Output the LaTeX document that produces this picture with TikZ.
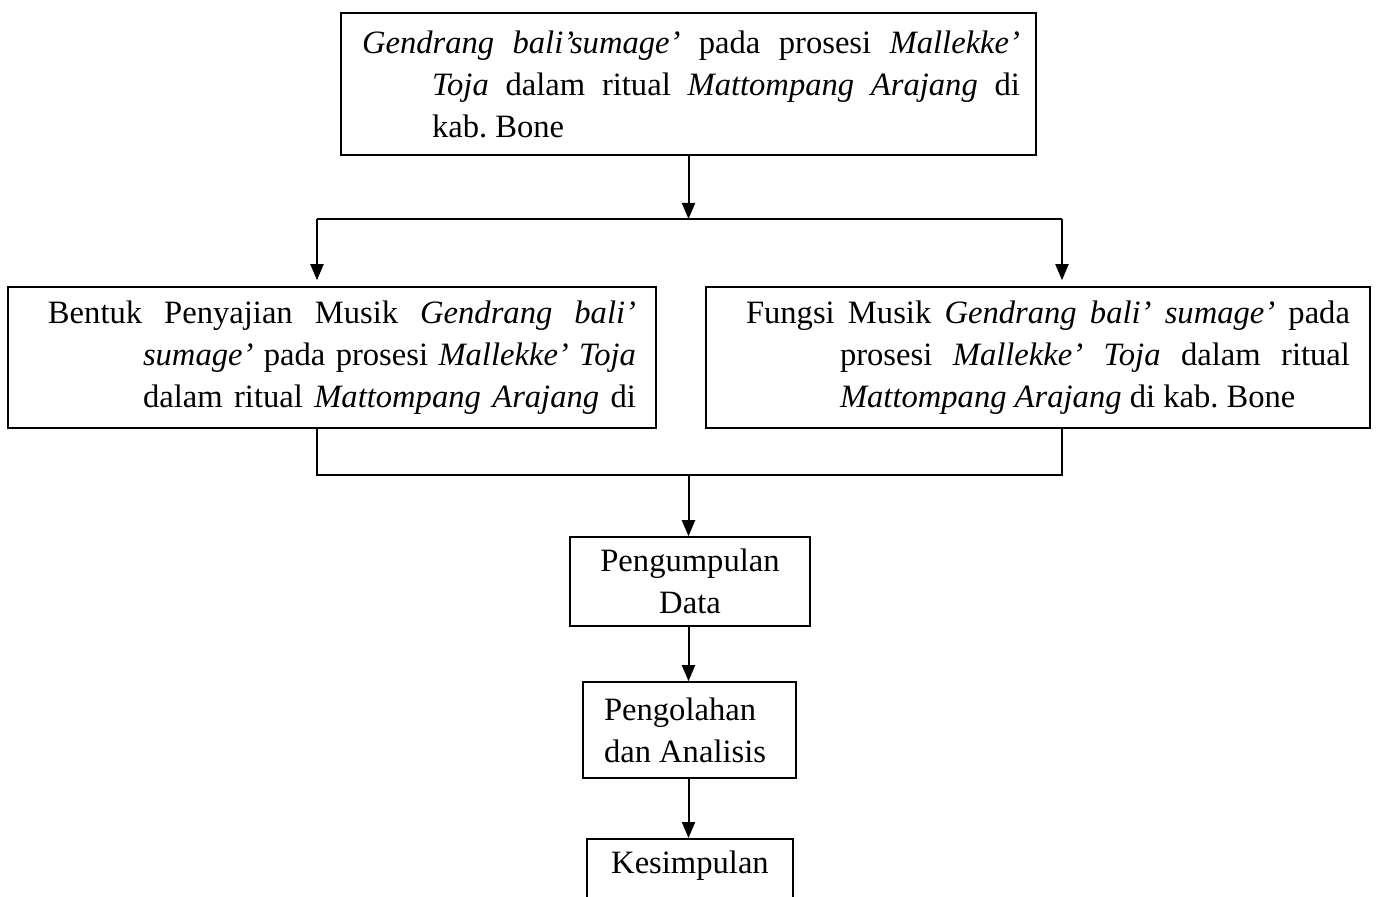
\documentclass[tikz,border=0pt]{standalone}
\usepackage{fontspec}
\setmainfont{Liberation Serif}
\usetikzlibrary{arrows.meta}

\newcommand{\rata}{\spaceskip=0pt\xspaceskip=0pt\frenchspacing}
\tikzstyle{kotak} = [draw, line width=0.8pt, rectangle, inner xsep=0pt, inner ysep=0pt, align=left, font=\fontsize{16.3}{21}\selectfont]
\tikzstyle{panah} = [line width=1pt, -{Triangle[length=8pt,width=6.5pt]}]
\tikzstyle{garis} = [line width=1pt]

\begin{document}
\begin{tikzpicture}
\useasboundingbox (0,0) rectangle (688pt,-448.5pt);
\clip (0,0) rectangle (688pt,-448.5pt);
% judul
\node[kotak, text width=347.5pt, minimum height=71pt, xshift=344.25pt, yshift=-42pt] (topik) {\rata\noindent\hspace*{10.5pt}\makebox[329pt][s]{\textit{Gendrang bali'sumage'} pada prosesi \textit{Mallekke'}}\\
\hspace*{45.5pt}\makebox[294pt][s]{\textit{Toja} dalam ritual \textit{Mattompang Arajang} di}\\
\hspace*{45.5pt}kab. Bone};
% dua fokus
\node[kotak, text width=324pt, minimum height=70.5pt, xshift=166pt, yshift=-178.75pt] (bentuk) {\rata\noindent\hspace*{20pt}\makebox[294pt][s]{Bentuk Penyajian Musik \textit{Gendrang bali'}}\\
\hspace*{67.5pt}\makebox[246.5pt][s]{\textit{sumage'} pada prosesi \textit{Mallekke' Toja}}\\
\hspace*{67.5pt}\makebox[246.5pt][s]{dalam ritual \textit{Mattompang Arajang} di}};
\node[kotak, text width=332pt, minimum height=70.5pt, xshift=519pt, yshift=-178.75pt] (fungsi) {\rata\noindent\hspace*{20pt}\makebox[302pt][s]{Fungsi Musik \textit{Gendrang bali' sumage'} pada}\\
\hspace*{67pt}\makebox[255pt][s]{prosesi \textit{Mallekke' Toja} dalam ritual}\\
\hspace*{67pt}\textit{Mattompang Arajang} di kab. Bone};
% tahap
\node[kotak, align=center, text width=120pt, minimum height=44.5pt, xshift=345pt, yshift=-290.75pt] (data) {Pengumpulan\\Data};
\node[kotak, text width=106.5pt, minimum height=48pt, xshift=344.75pt, yshift=-365pt] (olah) {\rata\noindent\hspace*{10.5pt}Pengolahan\\\hspace*{10.5pt}dan Analisis};
\node[kotak, align=center, anchor=north, text width=103pt, inner ysep=6pt, text depth=30pt, xshift=345pt, yshift=-419pt] (simpul) {Kesimpulan};

\coordinate (cabang) at (344.25pt,-109.5pt);
\coordinate (kiri) at (158.5pt,-109.5pt);
\coordinate (kanan) at (531pt,-109.5pt);
\coordinate (gabung) at (344.25pt,-237.5pt);

\draw[panah] (topik) -- (cabang);
\draw[garis] (kiri) -- (kanan);
\draw[panah, shorten >=3pt] (kiri) -- (kiri |- bentuk.north);
\draw[panah, shorten >=3pt] (kanan) -- (kanan |- fungsi.north);
\draw[garis] (bentuk.south -| kiri) |- (gabung) -| (fungsi.south -| kanan);
\draw[panah] (gabung) -- (gabung |- data.north);
\draw[panah] (data.south -| gabung) -- (gabung |- olah.north);
\draw[panah] (olah.south -| gabung) -- (gabung |- simpul.north);
\end{tikzpicture}
\end{document}
